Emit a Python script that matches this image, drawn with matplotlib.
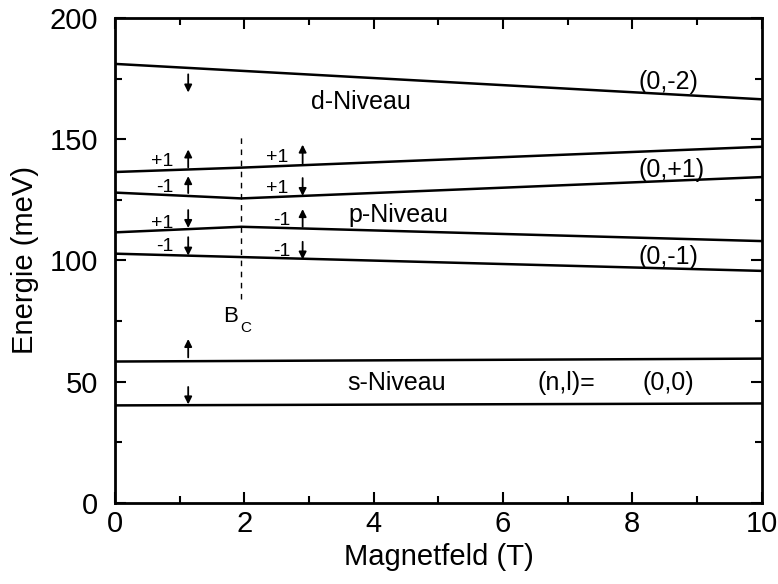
import matplotlib
matplotlib.use("Agg")
import matplotlib.pyplot as plt

plt.rcParams['font.family'] = ['Liberation Sans', 'DejaVu Sans']

# ---- data ----
B_c = 1.95
B_two = [0, 10]
B_three = [0, B_c, 10]

s_down = [40.2, 41.0]
s_up = [58.3, 59.5]
p_m1_down = [102.8, 101.4, 95.7]
p_p1_down = [111.6, 113.9, 108.0]
p_m1_up = [128.0, 125.6, 134.4]
p_p1_up = [136.5, 138.3, 146.9]
d_level = [181.1, 166.5]

# spin arrows: (B, start, end)
arrows = [
    (1.13, 176.8, 169.3),
    (1.13, 138.4, 145.8),
    (1.13, 127.8, 134.8),
    (1.13, 120.8, 113.4),
    (1.13, 109.6, 102.0),
    (2.9, 140.0, 147.8),
    (2.9, 134.0, 126.6),
    (2.9, 113.9, 121.2),
    (2.9, 107.7, 100.4),
    (1.13, 60.0, 67.6),
    (1.13, 47.8, 40.6),
]

# m-labels: (B, E, text)
m_labels = [
    (0.72, 140.8, '+1'), (0.77, 130.0, '-1'),
    (0.72, 115.4, '+1'), (0.77, 105.7, '-1'),
    (2.5, 142.6, '+1'), (2.5, 129.6, '+1'),
    (2.58, 116.6, '-1'), (2.58, 103.6, '-1'),
]

level_labels = [
    (3.8, 165.5, 'd-Niveau'),
    (4.38, 118.7, 'p-Niveau'),
    (4.35, 49.5, 's-Niveau'),
    (6.98, 49.5, '(n,l)='),
    (8.55, 49.5, '(0,0)'),
    (8.56, 101.4, '(0,-1)'),
    (8.6, 137.3, '(0,+1)'),
    (8.56, 173.6, '(0,-2)'),
]

fig = plt.figure(figsize=(7.78, 5.84), dpi=100)
ax = fig.add_axes([0.148, 0.139, 0.831, 0.830])

lw = 1.8
ax.plot(B_two, s_down, 'k-', lw=lw)
ax.plot(B_two, s_up, 'k-', lw=lw)
ax.plot(B_three, p_m1_down, 'k-', lw=lw)
ax.plot(B_three, p_p1_down, 'k-', lw=lw)
ax.plot(B_three, p_m1_up, 'k-', lw=lw)
ax.plot(B_three, p_p1_up, 'k-', lw=lw)
ax.plot(B_two, d_level, 'k-', lw=lw)

ax.plot([B_c, B_c], [84, 151], color='k', lw=1.0, ls=(0, (4, 4)))
ax.text(1.79, 77, 'B', fontsize=16, ha='center', va='center')
ax.text(2.02, 72, 'C', fontsize=11, ha='center', va='center')

for x, y0, y1 in arrows:
    ax.annotate('', xy=(x, y1), xytext=(x, y0),
                arrowprops=dict(arrowstyle='-|>', color='k', lw=1.3,
                                mutation_scale=11, shrinkA=0, shrinkB=0))

for x, y, t in m_labels:
    ax.text(x, y, t, fontsize=14, ha='center', va='center')

for x, y, t in level_labels:
    ax.text(x, y, t, fontsize=18, ha='center', va='center')

ax.set_xlim(0, 10)
ax.set_ylim(0, 200)
ax.set_xticks([0, 2, 4, 6, 8, 10])
ax.set_xticks([1, 3, 5, 7, 9], minor=True)
ax.set_yticks([0, 50, 100, 150, 200])
ax.set_yticks([25, 75, 125, 175], minor=True)
ax.tick_params(which='both', direction='in', top=True, right=True,
               width=1.5, labelsize=21)
ax.tick_params(which='major', length=8)
ax.tick_params(which='minor', length=5)
ax.tick_params(axis='x', which='major', pad=5)
ax.tick_params(axis='y', which='major', pad=12)
for sp in ax.spines.values():
    sp.set_linewidth(2)

ax.set_xlabel('Magnetfeld (T)', fontsize=21, labelpad=4)
ax.set_ylabel('Energie (meV)', fontsize=21, labelpad=8)

fig.savefig('out.png', dpi=100)
